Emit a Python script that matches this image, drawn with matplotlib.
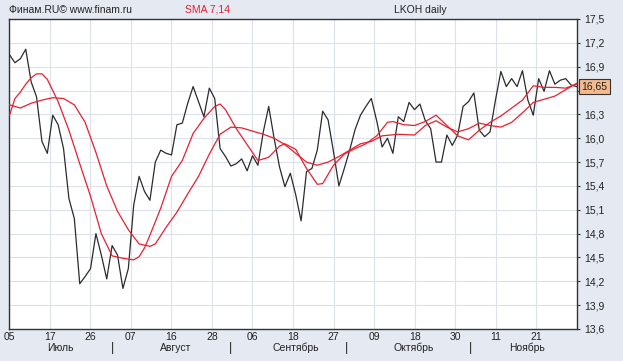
import numpy as np
import matplotlib
matplotlib.use("Agg")
import matplotlib.pyplot as plt
import matplotlib.transforms as mtransforms

# LKOH daily close, one value per bar
close = [
    17.05, 16.95, 17.00, 17.12, 16.71, 16.52, 15.96, 15.81, 16.29, 16.17,
    15.87, 15.24, 14.99, 14.17, 14.26, 14.36, 14.80, 14.53, 14.23, 14.65,
    14.53, 14.11, 14.36, 15.16, 15.52, 15.33, 15.22, 15.70, 15.85, 15.81,
    15.79, 16.17, 16.19, 16.44, 16.65, 16.46, 16.27, 16.63, 16.50, 15.87,
    15.77, 15.65, 15.68, 15.74, 15.59, 15.78, 15.66, 16.08, 16.40, 16.00,
    15.64, 15.39, 15.56, 15.29, 14.96, 15.58, 15.62, 15.85, 16.34, 16.23,
    15.83, 15.40, 15.62, 15.85, 16.11, 16.29, 16.40, 16.50, 16.22, 15.89,
    16.00, 15.81, 16.27, 16.21, 16.45, 16.36, 16.43, 16.22, 16.12, 15.70,
    15.70, 16.04, 15.91, 16.04, 16.40, 16.46, 16.57, 16.10, 16.02, 16.08,
    16.48, 16.84, 16.65, 16.75, 16.65, 16.85, 16.48, 16.29, 16.75, 16.59,
    16.85, 16.68, 16.73, 16.75, 16.67, 16.65,
]

# SMA 7 (bar index, value)
sma7_idx = [0, 1, 2, 3, 4, 5, 6, 7, 8, 9, 11, 13, 15, 17, 19, 21, 23, 24, 25, 26,
            28, 30, 32, 34, 36, 38, 39, 40, 42, 44, 46, 48, 50, 51, 53, 55, 57, 58,
            60, 62, 64, 66, 68, 70, 71, 73, 75, 77, 79, 81, 83, 85, 87, 89, 91, 93,
            95, 97, 99, 101, 103, 105]
sma7_val = [16.29, 16.50, 16.58, 16.68, 16.76, 16.81, 16.81, 16.74, 16.60, 16.46,
            16.10, 15.68, 15.27, 14.80, 14.52, 14.49, 14.47, 14.51, 14.62, 14.78,
            15.12, 15.52, 15.72, 16.06, 16.25, 16.40, 16.43, 16.36, 16.12, 15.92,
            15.72, 15.76, 15.90, 15.93, 15.86, 15.62, 15.42, 15.43, 15.66, 15.80,
            15.87, 15.93, 16.03, 16.20, 16.21, 16.17, 16.16, 16.21, 16.29, 16.16,
            16.03, 15.98, 16.10, 16.20, 16.28, 16.38, 16.48, 16.66, 16.64, 16.64,
            16.63, 16.68]

# SMA 14 (bar index, value)
sma14_idx = [0, 2, 4, 6, 8, 10, 12, 14, 16, 18, 20, 22, 24, 26, 27, 29, 31, 33, 35,
             37, 39, 41, 43, 45, 47, 49, 51, 53, 55, 57, 59, 61, 63, 65, 67, 69, 72,
             75, 77, 79, 81, 83, 85, 87, 89, 91, 93, 95, 97, 99, 101, 103, 105]
sma14_val = [16.42, 16.38, 16.44, 16.48, 16.51, 16.50, 16.42, 16.20, 15.82, 15.40,
             15.08, 14.85, 14.67, 14.64, 14.67, 14.88, 15.07, 15.30, 15.52, 15.80,
             16.05, 16.14, 16.13, 16.09, 16.05, 16.00, 15.92, 15.81, 15.70, 15.66,
             15.70, 15.77, 15.85, 15.93, 15.96, 16.03, 16.05, 16.04, 16.16, 16.22,
             16.14, 16.08, 16.12, 16.19, 16.16, 16.14, 16.20, 16.32, 16.45, 16.49,
             16.53, 16.61, 16.69]

date_labels = ["05", "17", "26", "07", "16", "28", "06", "18", "27", "09", "18", "30", "11", "21"]
months = ["Июль", "Август", "Сентябрь", "Октябрь", "Ноябрь"]
month_pos = [9.4, 30.7, 53.1, 74.8, 95.9]
month_breaks = [19, 41, 62.4, 85.4]
last_price = 16.65

bg = "#e4e9f2"
grid_c = "#dde2ea"
red = "#e8202f"
plt.rcParams["font.family"] = ["Liberation Sans", "DejaVu Sans"]
plt.rcParams["font.size"] = 7.5

fig = plt.figure(figsize=(6.23, 3.61), dpi=100, facecolor=bg)
ax = fig.add_axes([9 / 623, 1 - 329 / 361, 568 / 623, 310 / 361])
ax.set_facecolor("white")

x = np.arange(len(close))
ax.plot(x, close, color="#2b2b2b", lw=0.9, zorder=3)
ax.plot(sma7_idx, sma7_val, color=red, lw=0.9, zorder=4)
ax.plot(sma14_idx, sma14_val, color=red, lw=0.9, zorder=4)

x0, x1 = -0.1, 105.1
ax.set_xlim(x0, x1)
ax.set_ylim(13.6, 17.5)

yt = np.round(np.arange(13.6, 17.51, 0.3), 1)
ax.set_yticks(yt)
# the 16,6 label sits under the last-price box, so it is left blank
ax.set_yticklabels(["" if abs(v - 16.6) < 0.01 else f"{v:.1f}".replace(".", ",") for v in yt])
ax.yaxis.tick_right()
ax.tick_params(axis="y", length=2, width=0.8, pad=3, colors="#333333", labelcolor="#222222")

xt = np.linspace(x0, x1, 15)[:-1]
ax.set_xticks(xt)
ax.set_xticklabels(date_labels)
ax.tick_params(axis="x", length=0, pad=2, labelcolor="#222222")

ax.grid(True, color=grid_c, lw=0.8, zorder=0)
ax.set_axisbelow(True)
for s in ax.spines.values():
    s.set_color("#333333")
    s.set_linewidth(1.0)

trans = mtransforms.blended_transform_factory(ax.transData, ax.transAxes)
for name, p in zip(months, month_pos):
    ax.text(p, -0.062, name, transform=trans, ha="center", va="center", color="#222222")
for b in month_breaks:
    ax.text(b, -0.062, "|", transform=trans, ha="center", va="center", color="#222222", fontsize=9)

# last price marker on the right scale
ax.annotate(f"{last_price:.2f}".replace(".", ","), xy=(1.0, last_price),
            xycoords=("axes fraction", "data"), xytext=(3, 0), textcoords="offset points",
            ha="left", va="center", color="#222222", annotation_clip=False, zorder=10,
            bbox=dict(boxstyle="square,pad=0.25", fc="#f6b98c", ec="#333333", lw=0.8))

fig.text(9 / 623, 1 - 10 / 361, "Финам.RU© www.finam.ru", ha="left", va="center", color="#222222")
fig.text(185 / 623, 1 - 10 / 361, "SMA 7,14", ha="left", va="center", color=red)
fig.text(420 / 623, 1 - 10 / 361, "LKOH daily", ha="center", va="center", color="#222222")

fig.savefig("out.png", dpi=100, facecolor=bg)
